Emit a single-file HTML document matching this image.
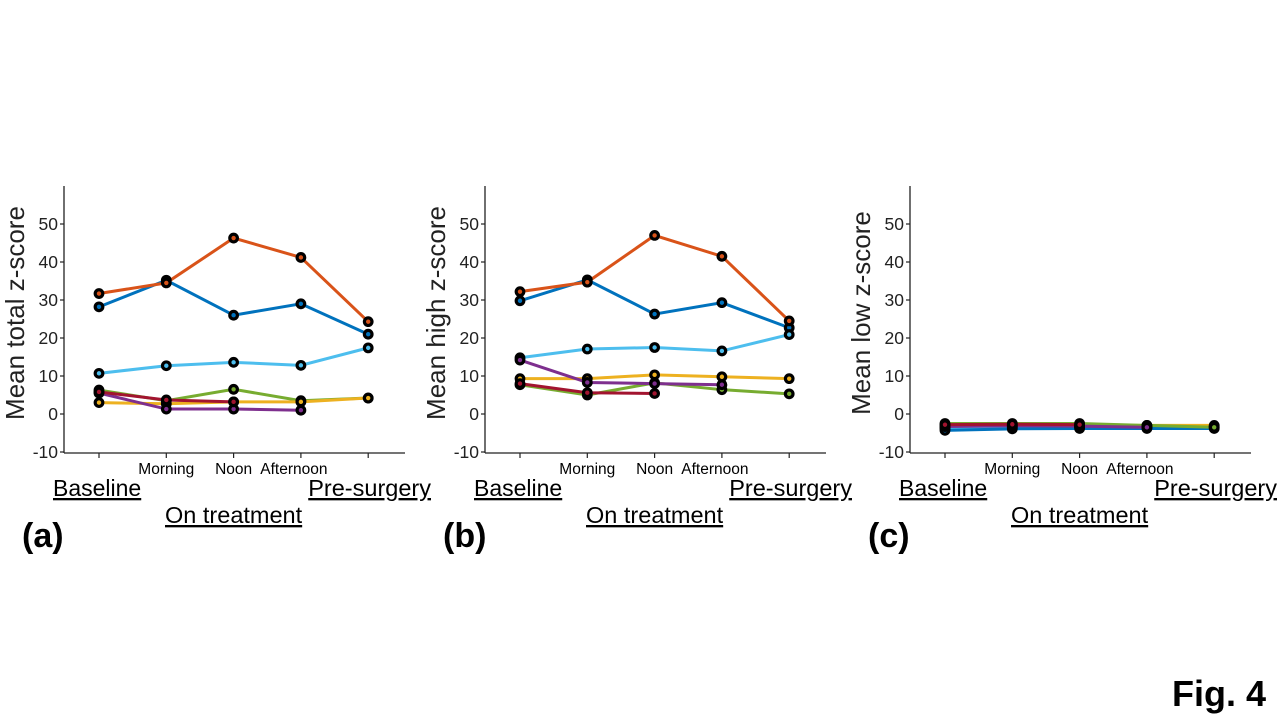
<!DOCTYPE html>
<html><head><meta charset="utf-8"><style>
body{margin:0;background:#fff;width:1280px;height:720px;overflow:hidden;font-family:"Liberation Sans",Arial,sans-serif}
svg text{font-family:"Liberation Sans",Arial,sans-serif}
</style></head><body>
<svg id="chart" width="1280" height="720"></svg>
<script>
const categories=["Baseline","Morning","Noon","Afternoon","Pre-surgery"];
const yTicks=[-10,0,10,20,30,40,50];
const colors={orange:"#D95319",blue:"#0072BD",lightblue:"#4DBEEE",green:"#77AC30",red:"#A2142F",yellow:"#EDB120",purple:"#7E2F8E"};
const totalOrange=[31.7,34.5,46.3,41.2,24.3];
const totalBlue=[28.2,35.2,26,29,21];
const totalLight=[10.7,12.7,13.6,12.8,17.4];
const totalGreen=[6.3,3.5,6.5,3.5,4.2];
const totalYellow=[3,2.7,3.2,3.2,4.2];
const totalRed=[5.8,3.7,3.2];
const totalPurple=[5.5,1.3,1.3,1.0];
const highOrange=[32.2,34.7,47,41.5,24.5];
const highBlue=[29.8,35.3,26.3,29.3,22.7];
const highLight=[14.8,17.1,17.5,16.6,20.9];
const highPurple=[14.2,8.3,8,7.7];
const highYellow=[9.3,9.3,10.3,9.8,9.3];
const highGreen=[7.7,5,8.2,6.4,5.3];
const highRed=[8,5.6,5.4];
const lowGreen=[-2.5,-2.5,-2.5,-3,-3.5];
const lowYellow=[-3,-3,-3,-3,-3];
const lowRed=[-2.8,-2.7,-2.8];
const lowPurple=[-3.3,-3.1,-3.2,-3.5];
const lowOrange=[-3.6,-3.4,-3.4,-3.6,-3.5];
const lowLight=[-3.8,-3.6,-3.4,-3.2,-3.2];
const lowBlue=[-4.3,-3.9,-3.8,-3.8,-3.8];

const NS="http://www.w3.org/2000/svg";
const svg=document.getElementById('chart');
function mk(tag,attrs,parent,txt){const e=document.createElementNS(NS,tag);for(const k in attrs)e.setAttribute(k,attrs[k]);if(txt!==undefined)e.textContent=txt;(parent||svg).appendChild(e);return e;}

const panels=[
 {id:"a",ax:64,title:"Mean total z-score",series:[["blue",totalBlue],["orange",totalOrange],["lightblue",totalLight],["green",totalGreen],["yellow",totalYellow],["purple",totalPurple],["red",totalRed]]},
 {id:"b",ax:485,title:"Mean high z-score",series:[["blue",highBlue],["orange",highOrange],["lightblue",highLight],["green",highGreen],["yellow",highYellow],["purple",highPurple],["red",highRed]]},
 {id:"c",ax:910,title:"Mean low z-score",series:[["orange",lowOrange],["lightblue",lowLight],["blue",lowBlue],["yellow",lowYellow],["green",lowGreen],["purple",lowPurple],["red",lowRed]]}
];
panels.forEach(p=>{
 const g=mk('g',{},svg);
 
 
 const y=v=>414-v*3.8;
 const x=i=>p.ax+35+i*67.3;
 const ya=mk('line',{x1:p.ax,y1:186,x2:p.ax,y2:453,stroke:"#222","stroke-width":1.3},g);
 
 const xa=mk('line',{x1:p.ax,y1:453,x2:p.ax+341,y2:453,stroke:"#222","stroke-width":1.3},g);
 
 yTicks.forEach(t=>{
  mk('line',{x1:p.ax-4,y1:y(t),x2:p.ax,y2:y(t),stroke:"#222","stroke-width":1.2},g);
  const tl=mk('text',{x:p.ax-6,y:y(t)+6,"text-anchor":"end","font-size":17.5,fill:"#222"},g,t);
  
 });
 categories.forEach((c,i)=>mk('line',{x1:x(i),y1:453,x2:x(i),y2:458,stroke:"#222","stroke-width":1.2},g));
 [[1,"Morning"],[2,"Noon"],[3,"Afternoon"]].forEach(([i,s])=>{
  const t=mk('text',{x:i==3?x(i)-7:x(i),y:474,"text-anchor":"middle","font-size":15.5,fill:"#000"},g,s);
  
 });
 const b=mk('text',{x:p.ax-11,y:496,"font-size":23,fill:"#000","text-decoration":"underline"},g,"Baseline");
 
 const ps=mk('text',{x:p.ax+367,y:496,"text-anchor":"end","font-size":23.5,fill:"#000","text-decoration":"underline"},g,"Pre-surgery");
 
 const ot=mk('text',{x:x(2),y:523,"text-anchor":"middle","font-size":23.5,fill:"#000","text-decoration":"underline"},g,"On treatment");
 
 const pl=mk('text',{x:p.ax-42,y:547,"font-size":34,"font-weight":"bold",fill:"#000"},g,"("+p.id+")");
 
 const yt=mk('text',{x:0,y:0,"text-anchor":"middle","font-size":26,fill:"#222",transform:`translate(${p.ax-40},${313}) rotate(-90)`},g,p.title);
 
 p.series.forEach(([cn,vals])=>{
  const pts=vals.map((v,i)=>x(i)+","+y(v)).join(" ");
  const l=mk('polyline',{points:pts,fill:"none",stroke:colors[cn],"stroke-width":3},g);
  
 });
 p.series.forEach(([cn,vals])=>{
  vals.forEach((v,i)=>{
   const c=mk('circle',{cx:x(i),cy:y(v),r:3.8,fill:colors[cn],stroke:"#000","stroke-width":3.2},g);
   
  });
 });
});
const fig=mk('text',{x:1266,y:706,"text-anchor":"end","font-size":36,"font-weight":"bold",fill:"#000"},svg,"Fig. 4");

</script>
</body></html>
